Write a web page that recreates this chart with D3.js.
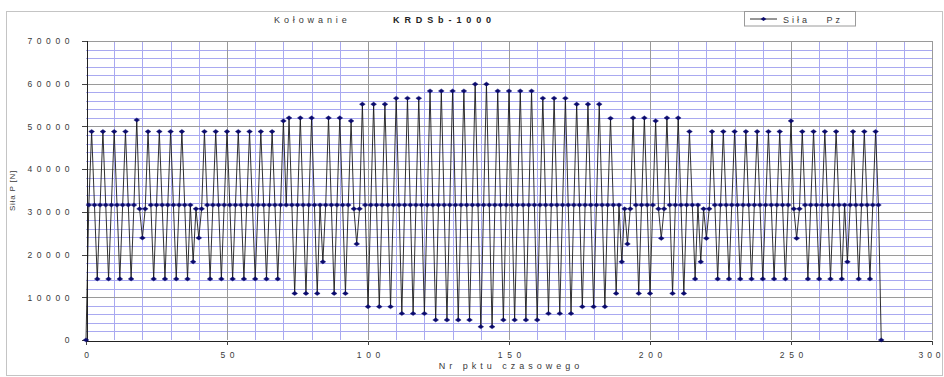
<!DOCTYPE html>
<html>
<head>
<meta charset="utf-8">
<script src="https://cdn.jsdelivr.net/npm/d3@7"></script>
<style>
  body { margin: 0; background: #fff; }
  svg { display: block; font-family: "Liberation Sans", Arial, sans-serif; }
  .pre { white-space: pre; }
</style>
</head>
<body>
<svg id="chart" width="944" height="377"></svg>
<script>
// Chart texts
const titleLeft = "Kołowanie";
const titleRight = "KRDSb-1000";
const seriesName = "Siła   Pz";
const yTitle = "Siła P [N]";
const xTitle = "Nr pktu czasowego";

// Axis ticks
const xTicks = [0, 50, 100, 150, 200, 250, 300];
const yTicks = [0, 10000, 20000, 30000, 40000, 50000, 60000, 70000];

// Force Pz [N] at successive time points (point number = array index)
const forcePz = [
  0, 31600, 48800, 31600, 14300, 31600, 48800, 31600, 14300, 31600, 48800, 31600, 14300, 31600, 48800, 31600, 14300, 31600, 51500, 30700,
  23900, 30700, 48800, 31600, 14300, 31600, 48800, 31600, 14300, 31600, 48800, 31600, 14300, 31600, 48800, 31600, 14300, 31600, 18300, 30700,
  23900, 30700, 48800, 31600, 14300, 31600, 48800, 31600, 14300, 31600, 48800, 31600, 14300, 31600, 48800, 31600, 14300, 31600, 48800, 31600,
  14300, 31600, 48800, 31600, 14300, 31600, 48800, 31600, 14300, 31600, 51300, 31600, 52000, 31600, 10900, 31600, 52000, 31600, 10900, 31600,
  52000, 31600, 10900, 31600, 18300, 31600, 52000, 31600, 10900, 31600, 52000, 31600, 10900, 31600, 51300, 30700, 22500, 30700, 55200, 31600,
  7800, 31600, 55200, 31600, 7800, 31600, 55200, 31600, 7800, 31600, 56600, 31600, 6200, 31600, 56600, 31600, 6200, 31600, 56600, 31600,
  6200, 31600, 58300, 31600, 4700, 31600, 58300, 31600, 4700, 31600, 58300, 31600, 4700, 31600, 58300, 31600, 4700, 31600, 59900, 31600,
  3100, 31600, 59900, 31600, 3100, 31600, 58300, 31600, 4700, 31600, 58300, 31600, 4700, 31600, 58300, 31600, 4700, 31600, 58300, 31600,
  4700, 31600, 56600, 31600, 6200, 31600, 56600, 31600, 6200, 31600, 56600, 31600, 6200, 31600, 55200, 31600, 7800, 31600, 55200, 31600,
  7800, 31600, 55200, 31600, 7800, 31600, 51900, 31600, 10900, 31600, 18300, 30700, 22500, 30700, 52000, 31600, 10900, 31600, 52000, 31600,
  10900, 31600, 51300, 30700, 23800, 30700, 52000, 31600, 10900, 31600, 52000, 31600, 10900, 31600, 48800, 31600, 14300, 31600, 18300, 30700,
  23800, 30700, 48800, 31600, 14300, 31600, 48800, 31600, 14300, 31600, 48800, 31600, 14300, 31600, 48800, 31600, 14300, 31600, 48800, 31600,
  14300, 31600, 48800, 31600, 14300, 31600, 48800, 31600, 14300, 31600, 51300, 30700, 23800, 30700, 48800, 31600, 14300, 31600, 48800, 31600,
  14300, 31600, 48800, 31600, 14300, 31600, 48800, 31600, 14300, 31600, 18300, 31600, 48800, 31600, 14300, 31600, 48800, 31600, 14300, 31600,
  48800, 31600, 0
];

const svg = d3.select("#chart");
const plot = { left: 86, right: 932, top: 41, bottom: 340 };

const x = d3.scaleLinear().domain([0, 300]).range([plot.left, plot.right]);
const y = d3.scaleLinear().domain([0, 70000]).range([plot.bottom, plot.top]);

const textColor = "#3a3a3a";
const minorGrid = "#a9a9f0";
const majorGrid = "#9a9a9a";

// Outer chart frame
svg.append("rect")
  .attr("x", 6.5).attr("y", 11.5)
  .attr("width", 936).attr("height", 364)
  .attr("fill", "#fff").attr("stroke", "#c4c4c4");

// Plot background
svg.append("rect")
  .attr("x", plot.left).attr("y", plot.top)
  .attr("width", plot.right - plot.left).attr("height", plot.bottom - plot.top)
  .attr("fill", "#fff");

// Minor gridlines (every 10 points / 2000 N)
const grid = svg.append("g").attr("shape-rendering", "crispEdges");
const minorX = d3.range(10, 300, 10).filter(v => v % 50 !== 0);
const minorY = d3.range(2000, 70000, 2000).filter(v => v % 10000 !== 0);
grid.selectAll(".mx").data(minorX).join("line")
  .attr("x1", d => Math.round(x(d)) + 0.5).attr("x2", d => Math.round(x(d)) + 0.5)
  .attr("y1", plot.top).attr("y2", plot.bottom)
  .attr("stroke", minorGrid).attr("stroke-width", 1);
grid.selectAll(".my").data(minorY).join("line")
  .attr("x1", plot.left).attr("x2", plot.right)
  .attr("y1", d => Math.round(y(d)) + 0.5).attr("y2", d => Math.round(y(d)) + 0.5)
  .attr("stroke", minorGrid).attr("stroke-width", 1);

// Major gridlines
grid.selectAll(".Mx").data(xTicks.filter(v => v > 0)).join("line")
  .attr("x1", d => Math.round(x(d)) + 0.5).attr("x2", d => Math.round(x(d)) + 0.5)
  .attr("y1", plot.top).attr("y2", plot.bottom)
  .attr("stroke", majorGrid).attr("stroke-width", 1);
grid.selectAll(".My").data(yTicks.filter(v => v > 0)).join("line")
  .attr("x1", plot.left).attr("x2", plot.right)
  .attr("y1", d => Math.round(y(d)) + 0.5).attr("y2", d => Math.round(y(d)) + 0.5)
  .attr("stroke", majorGrid).attr("stroke-width", 1);

// Axes
const yAxis = svg.append("g")
  .attr("transform", `translate(${plot.left + 0.5},0)`)
  .call(d3.axisLeft(y).tickValues(yTicks).tickSize(5).tickPadding(12).tickFormat(d3.format("d")));
const xAxis = svg.append("g")
  .attr("transform", `translate(0,${plot.bottom + 0.5})`)
  .call(d3.axisBottom(x).tickValues(xTicks).tickSize(4).tickPadding(7).tickFormat(d3.format("d")));

[yAxis, xAxis].forEach(a => {
  a.select(".domain").attr("stroke", "#222").attr("shape-rendering", "crispEdges");
  a.selectAll(".tick line").attr("stroke", "#444").attr("shape-rendering", "crispEdges");
  a.selectAll(".tick text")
    .attr("fill", textColor)
    .style("font-size", "8.5px")
    .style("letter-spacing", "4.6px")
    .style("font-family", "'Liberation Sans', Arial, sans-serif");
});
yAxis.selectAll(".tick text").attr("dx", "4.6px");
xAxis.selectAll(".tick text").attr("dx", d => d === 300 ? "-1px" : "2.3px")
  .style("letter-spacing", d => d === 300 ? "4px" : "4.6px");

// Series line
const line = d3.line()
  .x((d, i) => x(i))
  .y(d => y(d));
svg.append("path")
  .datum(forcePz)
  .attr("d", line)
  .attr("fill", "none")
  .attr("stroke", "#1a1a1a")
  .attr("stroke-width", 0.9);

// Series markers (flattened diamonds)
const marker = "M-2.9,0L0,-2.1L2.9,0L0,2.1Z";
svg.append("g").selectAll("path")
  .data(forcePz)
  .join("path")
  .attr("d", marker)
  .attr("transform", (d, i) => `translate(${x(i)},${y(d)})`)
  .attr("fill", "#0b0b6e")
  .attr("stroke", "#0b0b6e")
  .attr("stroke-width", 0.4);

// Title
svg.append("text")
  .attr("x", 274).attr("y", 23)
  .attr("fill", textColor)
  .style("font-size", "9px")
  .style("letter-spacing", "3.9px")
  .text(titleLeft);
svg.append("text")
  .attr("x", 393).attr("y", 23)
  .attr("fill", "#222")
  .style("font-size", "9px")
  .style("font-weight", "bold")
  .style("letter-spacing", "4.9px")
  .text(titleRight);

// Legend
const lg = svg.append("g");
lg.append("rect")
  .attr("x", 744.5).attr("y", 11.5)
  .attr("width", 111).attr("height", 14.5)
  .attr("fill", "#fff").attr("stroke", "#9a9a9a");
lg.append("line")
  .attr("x1", 750).attr("x2", 777)
  .attr("y1", 19).attr("y2", 19)
  .attr("stroke", "#1a1a1a").attr("stroke-width", 0.9);
lg.append("path")
  .attr("d", marker)
  .attr("transform", "translate(763.5,19)")
  .attr("fill", "#0b0b6e");
lg.append("text")
  .attr("class", "pre")
  .attr("x", 783).attr("y", 22.5)
  .attr("fill", textColor)
  .style("font-size", "9px")
  .style("letter-spacing", "3px")
  .text(seriesName);

// Axis titles
svg.append("text")
  .attr("transform", `translate(15,${(plot.top + plot.bottom) / 2}) rotate(-90)`)
  .attr("text-anchor", "middle")
  .attr("fill", textColor)
  .style("font-size", "8px")
  .style("letter-spacing", "0.8px")
  .text(yTitle);
svg.append("text")
  .attr("x", (plot.left + plot.right) / 2 + 2).attr("y", 369)
  .attr("text-anchor", "middle")
  .attr("fill", textColor)
  .style("font-size", "9px")
  .style("letter-spacing", "4px")
  .text(xTitle);
</script>
</body>
</html>
